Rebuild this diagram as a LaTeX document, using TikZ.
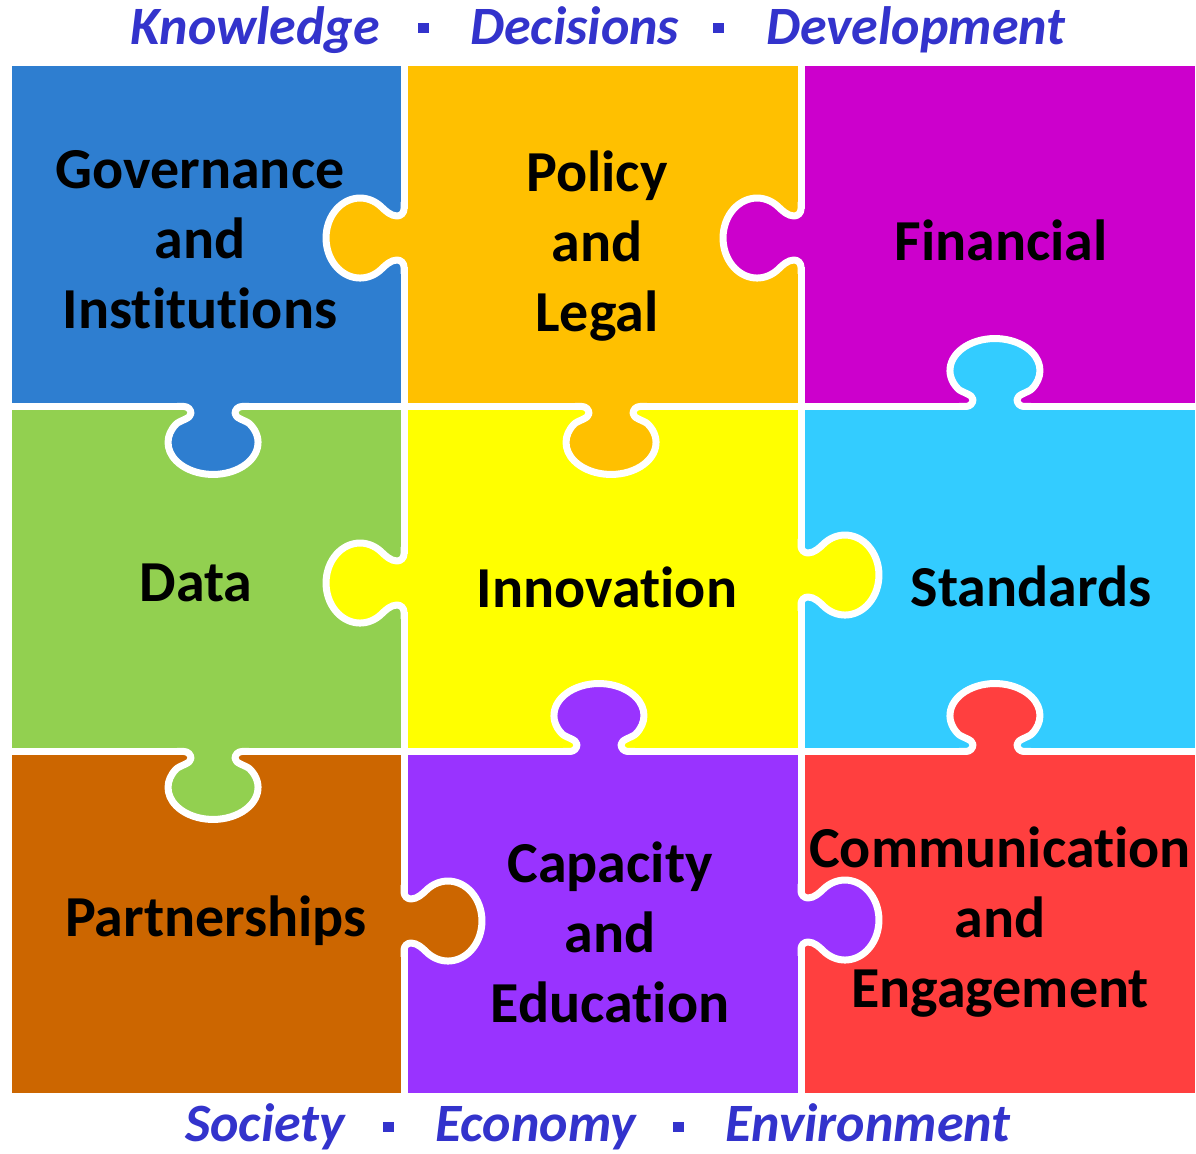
\documentclass[tikz,border=0pt]{standalone}
\usepackage{fontspec}
\setmainfont{Carlito}[Ligatures={NoCommon}]
\definecolor{cgov}{RGB}{46,126,208}
\definecolor{cpol}{RGB}{255,192,0}
\definecolor{cfin}{RGB}{204,0,204}
\definecolor{cdat}{RGB}{146,208,80}
\definecolor{cinn}{RGB}{255,255,0}
\definecolor{csta}{RGB}{51,204,255}
\definecolor{cpar}{RGB}{204,102,0}
\definecolor{ccap}{RGB}{153,51,255}
\definecolor{ccom}{RGB}{255,63,63}
\definecolor{ctitle}{RGB}{51,51,204}
\tikzset{
  seam/.style={draw=white, line width=3.5pt, line join=round},
  lab/.style={inner sep=0pt, align=center, font=\fontsize{29}{35}\selectfont\bfseries, text=black},
  ttl/.style={inner sep=0pt, anchor=base west, font=\fontsize{27}{32}\selectfont\bfseries\itshape, text=ctitle},
}
\newcommand\knobH[4]{%
  \begin{scope}[shift={(#1,#2)},#3]
    \fill[#4] (-6,-29) -- (0,-29) .. controls (0,-25.1) and (3.1,-22) .. (7,-22) .. controls (13,-22) and (18.5,-27.1) .. (22.1,-30.6) arc[start angle=230,end angle=490,x radius=34,y radius=40] .. controls (18.5,27.1) and (13,22) .. (7,22) .. controls (3.1,22) and (0,25.1) .. (0,29) -- (-6,29) -- cycle;
    \path[seam] (0,-36) -- (0,-29) .. controls (0,-25.1) and (3.1,-22) .. (7,-22) .. controls (13,-22) and (18.5,-27.1) .. (22.1,-30.6) arc[start angle=230,end angle=490,x radius=34,y radius=40] .. controls (18.5,27.1) and (13,22) .. (7,22) .. controls (3.1,22) and (0,25.1) .. (0,29) -- (0,36);
  \end{scope}}
\newcommand\knobV[4]{%
  \begin{scope}[shift={(#1,#2)},#3]
    \fill[#4] (-6,-29) -- (0,-29) .. controls (0,-25.1) and (3.1,-22) .. (7,-22) .. controls (12,-22) and (14,-33.4) .. (17.6,-36.9) arc[start angle=235,end angle=485,x radius=32,y radius=45] .. controls (14,33.4) and (12,22) .. (7,22) .. controls (3.1,22) and (0,25.1) .. (0,29) -- (-6,29) -- cycle;
    \path[seam] (0,-36) -- (0,-29) .. controls (0,-25.1) and (3.1,-22) .. (7,-22) .. controls (12,-22) and (14,-33.4) .. (17.6,-36.9) arc[start angle=235,end angle=485,x radius=32,y radius=45] .. controls (14,33.4) and (12,22) .. (7,22) .. controls (3.1,22) and (0,25.1) .. (0,29) -- (0,36);
  \end{scope}}
\begin{document}
\begin{tikzpicture}[x=0.5pt,y=-0.5pt]
\useasboundingbox (0,0) rectangle (1196,1154);
% pieces
\fill[cgov] (12,66) rectangle (404,406.5);
\fill[cpol] (404,66) rectangle (801,406.5);
\fill[cfin] (801,66) rectangle (1195,406.5);
\fill[cdat] (12,406.5) rectangle (404,751.5);
\fill[cinn] (404,406.5) rectangle (801,751.5);
\fill[csta] (801,406.5) rectangle (1195,751.5);
\fill[cpar] (12,751.5) rectangle (404,1093);
\fill[ccap] (404,751.5) rectangle (801,1093);
\fill[ccom] (801,751.5) rectangle (1195,1093);
% seams
\path[seam] (404,66) -- (404,1093);
\path[seam] (801,66) -- (801,1093);
\path[seam] (12,406.5) -- (1195,406.5);
\path[seam] (12,751.5) -- (1195,751.5);
% knobs
\knobH{404}{238}{xscale=-1}{cpol}
\knobH{801}{238}{xscale=-1}{cfin}
\knobV{995}{406.5}{rotate=90}{csta}
\knobV{213}{406.5}{rotate=-90}{cgov}
\knobV{611}{406.5}{rotate=-90}{cpol}
\knobH{404}{583}{xscale=-1}{cinn}
\knobH{801}{575}{}{cinn}
\knobV{599}{751.5}{rotate=90}{ccap}
\knobV{995}{751.5}{rotate=90}{ccom}
\knobV{213}{751.5}{rotate=-90}{cdat}
\knobH{404}{921}{}{cpar}
\knobH{801}{920}{}{ccap}
% labels
\node[lab] (gov) at (200,240) {Governance\\and\\Institutions};
\node[lab] (pol) at (597,246) {Policy\\and\\Legal};
\node[lab] (fin) at (1001,240) {Financial};
\node[lab] (dat) at (196,583) {Data};
\node[lab] (inn) at (607,587) {Innovation};
\node[lab] (sta) at (1031,586) {Standards};
\node[lab] (par) at (216,921) {Partnerships};
\node[lab] (cap) at (610,932) {Capacity\\and\\Education};
\node[lab] (com) at (1000,922) {Communication\\and\\Engagement};
% titles
\node[ttl] (t1) at (130,45) {Knowledge};
\node[ttl] (t2) at (470,45) {Decisions};
\node[ttl] (t3) at (766,45) {Development};
\node[ttl] (b1) at (185,1142) {Society};
\node[ttl] (b2) at (435,1142) {Economy};
\node[ttl] (b3) at (725,1142) {Environment};
\fill[ctitle] (417.5,23) rectangle (428.5,33);
\fill[ctitle] (712.5,23) rectangle (723.5,33);
\fill[ctitle] (382.5,1122) rectangle (393.5,1132);
\fill[ctitle] (672.5,1122) rectangle (683.5,1132);
\end{tikzpicture}
\end{document}
